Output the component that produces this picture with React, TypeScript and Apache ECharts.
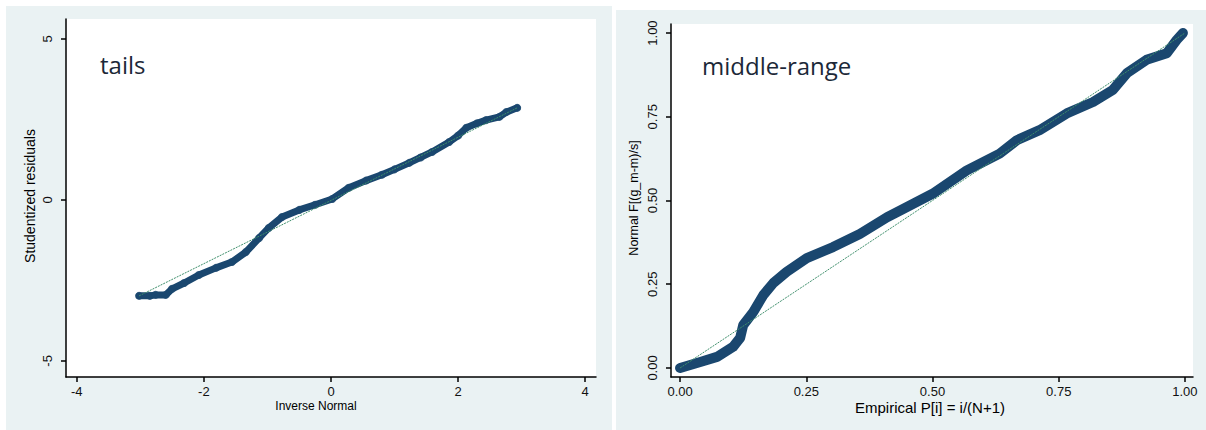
import React, { useEffect, useRef } from "react";
import * as echarts from "echarts";

// Left panel (tails): studentized residuals vs inverse normal
const tailsX = [-3.02, -2.85, -2.76, -2.6, -2.5, -2.31, -2.08, -1.81, -1.56, -1.34, -1.13, -0.98, -0.77, -0.5, -0.25, 0.02, 0.28, 0.55, 0.8, 1.0, 1.23, 1.41, 1.59, 1.86, 2.0, 2.13, 2.3, 2.44, 2.65, 2.76, 2.93];
const tailsY = [-2.98, -2.98, -2.95, -2.95, -2.76, -2.58, -2.33, -2.11, -1.93, -1.62, -1.18, -0.87, -0.53, -0.31, -0.15, 0.03, 0.38, 0.6, 0.78, 0.95, 1.15, 1.32, 1.49, 1.8, 2.0, 2.24, 2.38, 2.48, 2.58, 2.73, 2.86];
const tailsRefX = [-3.02, 2.93];
const tailsRefY = [-2.98, 2.86];

// Right panel (middle-range): normal probability vs empirical probability
const midX = [0, 0.04, 0.073, 0.105, 0.119, 0.125, 0.145, 0.165, 0.185, 0.211, 0.251, 0.303, 0.356, 0.41, 0.436, 0.5, 0.568, 0.633, 0.667, 0.712, 0.766, 0.818, 0.857, 0.885, 0.924, 0.964, 0.984, 0.996];
const midY = [0, 0.018, 0.033, 0.063, 0.09, 0.128, 0.167, 0.218, 0.254, 0.287, 0.328, 0.361, 0.4, 0.45, 0.47, 0.52, 0.59, 0.64, 0.68, 0.71, 0.76, 0.794, 0.83, 0.88, 0.92, 0.94, 0.98, 1.0];
const midRefX = [0, 1];
const midRefY = [0, 1];

const tailsXTicks = [-4, -2, 0, 2, 4];
const tailsYTicks = [-5, 0, 5];
const midTicks = [0, 0.25, 0.5, 0.75, 1];

const NAVY = "#1a476f";
const GREEN = "#3f8f6c";
const BG = "#eaf2f3";
const FONT = "Liberation Sans";

const zip = (a: number[], b: number[]) => a.map((v, i) => [v, b[i]]);

export default function App() {
  const ref = useRef<HTMLDivElement>(null);
  useEffect(() => {
    document.body.style.margin = "0";
    const chart = echarts.init(ref.current!, null, { renderer: "svg" });
    const axisCommon = (ticks: number[], fmt: (v: number) => string) => ({
      type: "value" as const,
      splitLine: { show: false },
      axisLine: { show: true, onZero: false, lineStyle: { color: "#000", width: 1.5 } },
      axisTick: { show: true, length: 5, inside: false, customValues: ticks, lineStyle: { color: "#000", width: 1.5 } },
      axisLabel: { customValues: ticks, formatter: fmt, color: "#111", fontFamily: FONT, fontSize: 13 },
    });
    const f2 = (v: number) => v.toFixed(2);
    const f0 = (v: number) => String(v);
    chart.setOption({
      animation: false,
      backgroundColor: "#fff",
      graphic: [
        { type: "rect", z: -10, shape: { x: 6, y: 6, width: 606, height: 424 }, style: { fill: BG } },
        { type: "rect", z: -10, shape: { x: 616, y: 10, width: 590, height: 420 }, style: { fill: BG } },
        { type: "text", z: 10, x: 100, y: 52, style: { text: "tails", fontFamily: "Open Sans", fontSize: 24, fill: "#1c2838" } },
        { type: "text", z: 10, x: 702, y: 53, style: { text: "middle-range", fontFamily: "Open Sans", fontSize: 24, fill: "#1c2838" } },
        { type: "text", z: 10, x: 316, y: 406, style: { text: "Inverse Normal", fontFamily: FONT, fontSize: 12, fill: "#000", align: "center", verticalAlign: "middle" } },
        { type: "text", z: 10, x: 30, y: 196, rotation: Math.PI / 2, style: { text: "Studentized residuals", fontFamily: FONT, fontSize: 14, fill: "#000", align: "center", verticalAlign: "middle" } },
        { type: "text", z: 10, x: 930, y: 407, style: { text: "Empirical P[i] = i/(N+1)", fontFamily: FONT, fontSize: 15, fill: "#000", align: "center", verticalAlign: "middle" } },
        { type: "text", z: 10, x: 634, y: 198, rotation: Math.PI / 2, style: { text: "Normal F[(g_m-m)/s]", fontFamily: FONT, fontSize: 12.5, fill: "#000", align: "center", verticalAlign: "middle" } },
      ],
      grid: [
        { left: 66, top: 19, width: 530, height: 358, show: true, backgroundColor: "#fff", borderWidth: 0 },
        { left: 671, top: 24, width: 522, height: 353, show: true, backgroundColor: "#fff", borderWidth: 0 },
      ],
      xAxis: [
        { ...axisCommon(tailsXTicks, f0), gridIndex: 0, min: -4.17, max: 4.17, axisLabel: { ...axisCommon(tailsXTicks, f0).axisLabel, margin: 8 } },
        { ...axisCommon(midTicks, f2), gridIndex: 1, min: -0.018, max: 1.016, axisLabel: { ...axisCommon(midTicks, f2).axisLabel, margin: 8 } },
      ],
      yAxis: [
        { ...axisCommon(tailsYTicks, f0), gridIndex: 0, min: -5.5, max: 5.62, axisLabel: { ...axisCommon(tailsYTicks, f0).axisLabel, rotate: 90, margin: 12 } },
        { ...axisCommon(midTicks, f2), gridIndex: 1, min: -0.027, max: 1.027, axisLabel: { ...axisCommon(midTicks, f2).axisLabel, rotate: 90, margin: 12 } },
      ],
      series: [
        { type: "line", xAxisIndex: 0, yAxisIndex: 0, data: zip(tailsX, tailsY), showSymbol: false, lineStyle: { color: NAVY, width: 7, cap: "round", join: "round" }, z: 2 },
        { type: "scatter", xAxisIndex: 0, yAxisIndex: 0, data: zip(tailsX, tailsY), symbolSize: 8, itemStyle: { color: NAVY }, z: 2 },
        { type: "line", xAxisIndex: 0, yAxisIndex: 0, data: zip(tailsRefX, tailsRefY), showSymbol: false, lineStyle: { color: GREEN, width: 1, type: [2, 1] }, z: 3 },
        { type: "line", xAxisIndex: 1, yAxisIndex: 1, data: zip(midX, midY), showSymbol: false, lineStyle: { color: NAVY, width: 10, cap: "round", join: "round" }, z: 2 },
        { type: "line", xAxisIndex: 1, yAxisIndex: 1, data: zip(midRefX, midRefY), showSymbol: false, lineStyle: { color: GREEN, width: 1, type: [2, 1] }, z: 3 },
      ],
    });
    return () => chart.dispose();
  }, []);
  return <div ref={ref} style={{ width: 1206, height: 430 }} />;
}
